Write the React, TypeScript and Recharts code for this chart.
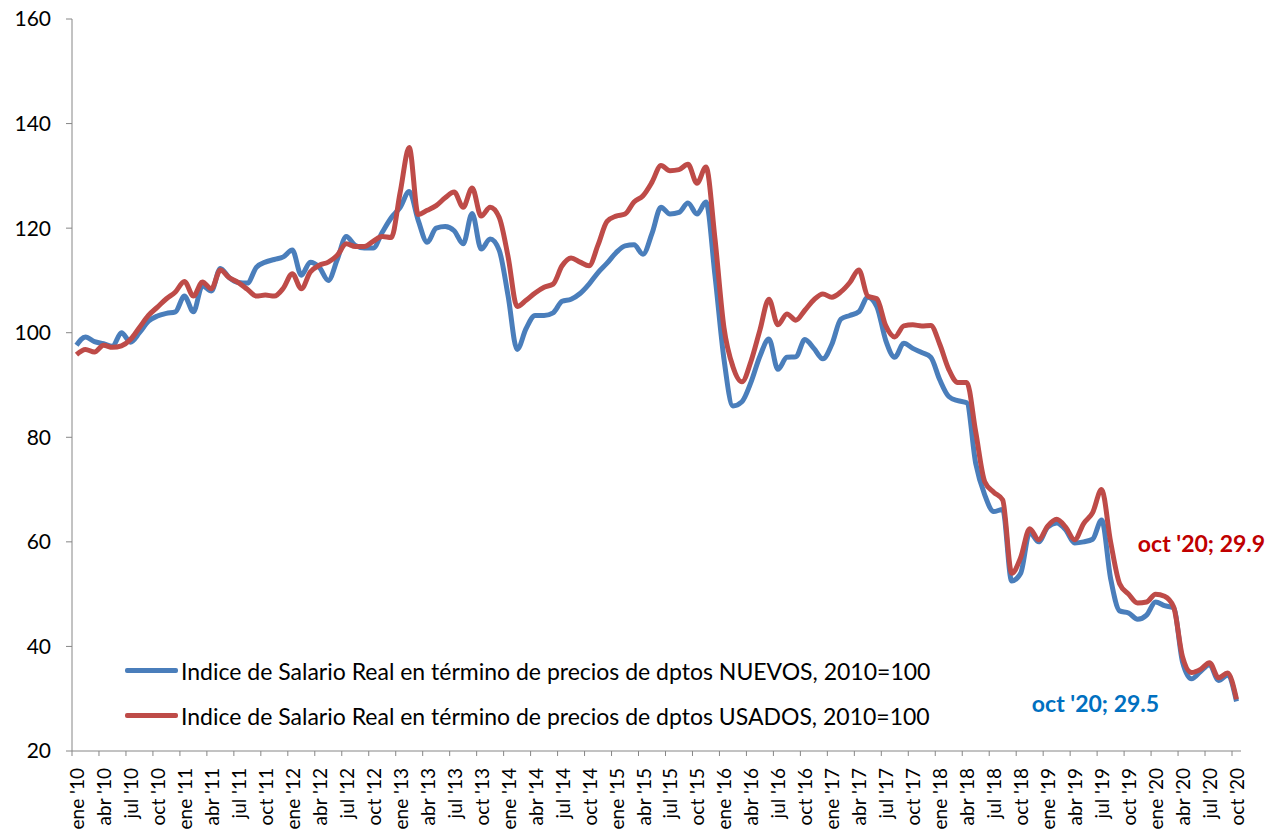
import { LineChart, Line, XAxis, YAxis } from 'recharts'

const MONTHS = ['ene', 'feb', 'mar', 'abr', 'may', 'jun', 'jul', 'ago', 'sep', 'oct', 'nov', 'dic']
const YEARS = ['10', '11', '12', '13', '14', '15', '16', '17', '18', '19', '20']

// ene '10 .. oct '20, monthly
const categories = YEARS.flatMap((y) => MONTHS.map((m) => `${m} '${y}`)).slice(0, 130)

const xTicks = categories.map((_, i) => i).filter((i) => i % 3 === 0)
const yTicks = [20, 40, 60, 80, 100, 120, 140, 160]

// Indice de Salario Real en término de precios de dptos NUEVOS
const nuevos = [
    97.6, 99.2, 98.3, 97.9, 97.4, 100, 98.2, 100, 102.2, 103.2, 103.7, 104,
    107, 104, 109, 108, 112.3, 110.5, 109.6, 109.5, 112.5, 113.5, 114, 114.5,
    115.8, 111, 113.5, 112.5, 110, 114, 118.4, 116.7, 116.2, 116.2, 119.2, 122,
    124, 127, 121.5, 117.3, 120, 120.3, 119.5, 117, 122.8, 116, 117.9, 115.8,
    107, 96.8, 100.8, 103.3, 103.3, 103.8, 106, 106.4, 107.5, 109.3, 111.5, 113.3,
    115.3, 116.6, 116.8, 115, 119, 124, 122.7, 123, 124.8, 122.7, 125, 111,
    95, 86, 86.8, 90.5, 95.5, 98.8, 93, 95.3, 95.4, 98.7, 97, 95,
    97.8, 102.6, 103.3, 104, 106.8, 105, 98.5, 95.3, 98, 97, 96.2, 95.3,
    91, 87.8, 87, 86.6, 75, 69, 65.8, 66.2, 52.5, 54, 61.8, 60,
    62.8, 63.6, 62.3, 59.8, 60, 60.5, 64.2, 53, 46.8, 46.4, 45.2, 46,
    48.5, 47.8, 47.4, 37, 33.8, 35.2, 36.5, 33.5, 34.5, 29.5,
]

// Indice de Salario Real en término de precios de dptos USADOS
const usados = [
    95.8, 96.8, 96.3, 97.6, 97.2, 97.5, 98.7, 101, 103.3, 104.9, 106.5, 107.8,
    109.8, 107, 109.7, 108.4, 112, 110.5, 109.6, 108.3, 107, 107.2, 107, 108.5,
    111.3, 108.4, 111.6, 112.9, 113.5, 114.8, 117, 116.5, 116.5, 117.5, 118.4, 118.2,
    126.9, 135.4, 122.6, 123.4, 124.3, 125.8, 126.9, 124, 127.7, 122.3, 124, 122.1,
    114.5, 105, 106.2, 107.6, 108.7, 109.3, 112.8, 114.3, 113.5, 112.8, 116.8, 121.3,
    122.3, 122.7, 125, 126.2, 128.8, 132, 131, 131.2, 132.2, 128.6, 131.7, 118,
    101, 93.5, 90.6, 94.5, 100.5, 106.4, 101.5, 103.6, 102.4, 104.3, 106.3, 107.4,
    106.8, 107.8, 109.6, 112, 107, 106.5, 101.3, 99.2, 101.3, 101.5, 101.3, 101.4,
    97.8, 93, 90.5, 90.5, 81, 71.5, 69.5, 68, 54, 57, 62.5, 60.4,
    63, 64.3, 62.8, 60.4, 63.5, 65.6, 70, 60, 52, 50, 48.3, 48.5,
    50, 49.6, 47.6, 38, 35, 35.6, 36.9, 34, 34.9, 29.9,
]

const seriesNames = [
    'Indice de Salario Real en término de precios de dptos NUEVOS, 2010=100',
    'Indice de Salario Real en término de precios de dptos USADOS, 2010=100',
]

const data = categories.map((label, i) => ({ idx: i, label, nuevos: nuevos[i], usados: usados[i] }))

const BLUE = '#4A7EBB'
const RED = '#BE4B48'
const AXIS = '#868686'
const FONT = 'Lato, "Liberation Sans", sans-serif'

const WIDTH = 1271
const HEIGHT = 833
const MARGIN = { top: 19, right: 30, left: 12, bottom: 0 }
const Y_WIDTH = 60
const HALF_BAND = (WIDTH - MARGIN.left - MARGIN.right - Y_WIDTH) / categories.length / 2

function XTick({ x, y, payload }: any) {
    return (
        <g>
            <line x1={x - HALF_BAND} x2={x - HALF_BAND} y1={y - 9} y2={y - 4} stroke={AXIS} />
            <text
                transform={`translate(${x},${y + 8}) rotate(-90)`}
                textAnchor="end"
                dominantBaseline="central"
                fontSize={19}
                fill="#000"
            >
                {categories[payload.value]}
            </text>
        </g>
    )
}

function lastLabel(color: string, dx: number, dy: number) {
    return (props: any) => {
        const { x, y, index, value } = props
        if (index !== categories.length - 1) return null
        return (
            <text
                x={x + dx}
                y={y + dy}
                textAnchor="middle"
                dominantBaseline="central"
                fontSize={23}
                fontWeight="bold"
                fill={color}
            >
                {`${categories[index]}; ${value}`}
            </text>
        )
    }
}

function LegendBox() {
    const colors = [BLUE, RED]
    return (
        <div style={{ position: 'absolute', left: 125, top: 648, fontFamily: FONT }}>
            {seriesNames.map((name, i) => (
                <div key={name} style={{ display: 'flex', alignItems: 'center', height: 45 }}>
                    <div style={{ width: 53, height: 5, background: colors[i], borderRadius: 2 }} />
                    <span style={{ fontSize: 23, color: '#000', marginLeft: 3, whiteSpace: 'nowrap' }}>
                        {name}
                    </span>
                </div>
            ))}
        </div>
    )
}

export default function App() {
    return (
        <div style={{ position: 'absolute', left: 0, top: 0, fontFamily: FONT }}>
            <LineChart width={WIDTH} height={HEIGHT} data={data} margin={MARGIN}>
                <XAxis
                    dataKey="idx"
                    type="number"
                    domain={[-0.5, categories.length - 0.5]}
                    ticks={xTicks}
                    interval={0}
                    height={82}
                    tickSize={5}
                    tickMargin={4}
                    tickLine={false}
                    stroke={AXIS}
                    tick={<XTick />}
                />
                <YAxis
                    domain={[20, 160]}
                    ticks={yTicks}
                    width={Y_WIDTH}
                    tickSize={6}
                    tickMargin={15}
                    stroke={AXIS}
                    tick={{ fill: '#000', fontSize: 21 }}
                />
                <Line
                    type="monotone"
                    dataKey="nuevos"
                    name={seriesNames[0]}
                    stroke={BLUE}
                    strokeWidth={5}
                    dot={false}
                    isAnimationActive={false}
                    label={lastLabel('#0070C0', -141, 2)}
                />
                <Line
                    type="monotone"
                    dataKey="usados"
                    name={seriesNames[1]}
                    stroke={RED}
                    strokeWidth={5}
                    dot={false}
                    isAnimationActive={false}
                    label={lastLabel('#C00000', -35, -156)}
                />
            </LineChart>
            <LegendBox />
        </div>
    )
}
